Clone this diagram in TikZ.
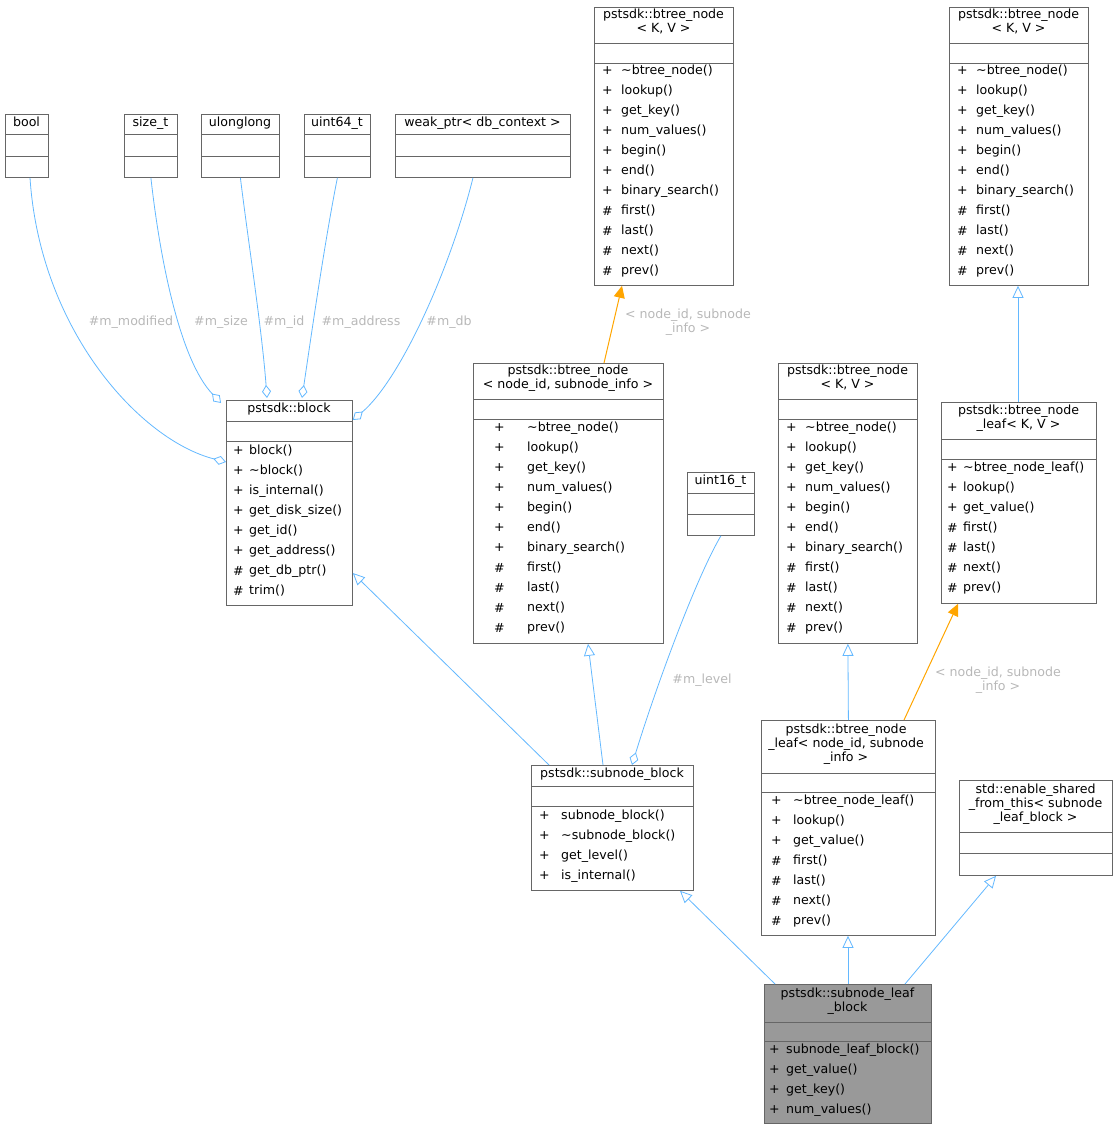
\documentclass[tikz,border=0pt]{standalone}
\usepackage{fontspec}
\setmainfont{DejaVu Sans}
\usetikzlibrary{arrows.meta}
\definecolor{edge}{HTML}{63B8FF}
\definecolor{lbl}{HTML}{B8B8B8}
\definecolor{org}{HTML}{FFA500}
\newcounter{tn}
\newcommand\tl{\textasciitilde}
\begin{document}
\begin{tikzpicture}[x=1pt,y=-1pt,
  box/.style={draw=black!60,line width=0.8pt,inner sep=0,anchor=north west},
  txt/.style={inner sep=0,anchor=west,font=\fontsize{12.6}{14}\selectfont},
  ctxt/.style={inner sep=0,font=\fontsize{12.6}{14}\selectfont,align=center},
  elbl/.style={inner sep=0,font=\fontsize{12.6}{14}\selectfont,text=lbl,align=center},
  own/.style={draw=edge,line width=0.8pt,{Diamond[open,length=13pt,width=9pt,fill=white]}-},
  inh/.style={draw=edge,line width=0.8pt,{Triangle[open,length=12pt,width=11pt,fill=white]}-},
  tmpl/.style={draw=org,line width=1pt,{Triangle[length=12pt,width=11pt]}-}]
\useasboundingbox (0,0) rectangle (1118,1129);
\newcommand\cbox[8]{%
  \node[box,fill=#8,minimum width={(#4-#2)*1pt},minimum height={(#5-#3)*1pt}] (#1) at (#2,#3) {};
  \draw[black!60,line width=0.8pt] (#2,#6) -- (#4,#6) (#2,#7) -- (#4,#7);}
\newcommand\mem[4]{%
  \foreach \s/\n [count=\i] in {#4}{%
    \stepcounter{tn}%
    \node[txt] (s\arabic{tn}) at (#1,{#3+20*(\i-1)}) {\s};
    \node[txt] (n\arabic{tn}) at (#2,{#3+20*(\i-1)}) {\n};}}
\newcommand\ttl[3]{\stepcounter{tn}\node[ctxt,anchor=north] (c\arabic{tn}) at (#1,#2) {#3};}

\cbox{bool}{5}{114}{48}{177}{134}{156}{white}
\ttl{26.5}{117}{bool}
\cbox{sizet}{124}{114}{177}{177}{134}{156}{white}
\ttl{150.5}{117}{size\_t}
\cbox{ull}{201}{114}{279}{177}{134}{156}{white}
\ttl{240}{117}{ulonglong}
\cbox{u64}{304}{114}{370}{177}{134}{156}{white}
\ttl{337}{117}{uint64\_t}
\cbox{weak}{395}{114}{570}{177}{134}{156}{white}
\ttl{482.5}{117}{weak\_ptr< db\_context >}

\cbox{btA}{594}{7}{733}{285}{43}{63}{white}
\ttl{663.5}{9}{pstsdk::btree\_node\\< K, V >}
\mem{602}{621}{71}{+/\tl btree\_node(),+/lookup(),+/get\_key(),+/num\_values(),+/begin(),+/end(),+/binary\_search(),\#/first(),\#/last(),\#/next(),\#/prev()}
\cbox{btB}{949}{7}{1088}{285}{43}{63}{white}
\ttl{1018.5}{9}{pstsdk::btree\_node\\< K, V >}
\mem{957}{976}{71}{+/\tl btree\_node(),+/lookup(),+/get\_key(),+/num\_values(),+/begin(),+/end(),+/binary\_search(),\#/first(),\#/last(),\#/next(),\#/prev()}

\cbox{block}{226}{400}{352}{605}{421}{441}{white}
\ttl{289}{403}{pstsdk::block}
\mem{233}{249}{451}{+/block(),+/\tl block(),+/is\_internal(),+/get\_disk\_size(),+/get\_id(),+/get\_address(),\#/get\_db\_ptr(),\#/trim()}

\cbox{btN}{473}{363}{663}{643}{399}{419}{white}
\ttl{568}{365}{pstsdk::btree\_node\\< node\_id, subnode\_info >}
\mem{494}{527}{428}{+/\tl btree\_node(),+/lookup(),+/get\_key(),+/num\_values(),+/begin(),+/end(),+/binary\_search(),\#/first(),\#/last(),\#/next(),\#/prev()}

\cbox{u16}{687}{472}{754}{535}{493}{514}{white}
\ttl{720.5}{475}{uint16\_t}

\cbox{btC}{778}{363}{917}{643}{399}{419}{white}
\ttl{847.5}{365}{pstsdk::btree\_node\\< K, V >}
\mem{786}{805}{428}{+/\tl btree\_node(),+/lookup(),+/get\_key(),+/num\_values(),+/begin(),+/end(),+/binary\_search(),\#/first(),\#/last(),\#/next(),\#/prev()}

\cbox{leafKV}{941}{402}{1096}{603}{439}{459}{white}
\ttl{1018.5}{405}{pstsdk::btree\_node\\\_leaf< K, V >}
\mem{947}{963}{468}{+/\tl btree\_node\_leaf(),+/lookup(),+/get\_value(),\#/first(),\#/last(),\#/next(),\#/prev()}

\cbox{sub}{531}{765}{693}{890}{786}{806}{white}
\ttl{612}{768}{pstsdk::subnode\_block}
\mem{539}{561}{816}{+/subnode\_block(),+/\tl subnode\_block(),+/get\_level(),+/is\_internal()}

\cbox{leafN}{761}{720}{935}{935}{773}{792}{white}
\ttl{846}{724}{pstsdk::btree\_node\\\_leaf< node\_id, subnode\\\_info >}
\mem{771}{793}{801}{+/\tl btree\_node\_leaf(),+/lookup(),+/get\_value(),\#/first(),\#/last(),\#/next(),\#/prev()}

\cbox{esf}{959}{780}{1112}{875}{832}{853}{white}
\ttl{1035.5}{784}{std::enable\_shared\\\_from\_this< subnode\\\_leaf\_block >}

\cbox{slb}{764}{984}{931}{1123}{1022}{1041}{black!40}
\ttl{847.5}{988}{pstsdk::subnode\_leaf\\\_block}
\mem{769}{786}{1050}{+/subnode\_leaf\_block(),+/get\_value(),+/get\_key(),+/num\_values()}

% ownership edges
\draw[own] (block.west |- 0,462) .. controls (140,440) and (40,330) .. (bool.south -| 30,0);
\draw[own] (block.north west) ++(-5,3) .. controls (180,360) and (160,260) .. (sizet.south);
\draw[own] (267,398) .. controls (262,330) and (248,240) .. (ull.south);
\draw[own] (302,398) .. controls (312,330) and (325,240) .. (u64.south);
\draw[own] (block.east |- 0,420) .. controls (400,380) and (450,270) .. (weak.south -| 473,0);
\draw[own] (sub.north -| 632,0) .. controls (655,690) and (695,580) .. (u16.south);
% inheritance
\draw[inh] (block.east |- 0,573) -- (sub.north -| 549,0);
\draw[inh] (btN.south -| 588,0) -- (sub.north -| 603,0);
\draw[inh] (btC.south) -- (leafN.south |- leafN.north);
\draw[inh] (btB.south -| 1018,0) -- (leafKV.north -| 1018,0);
\draw[inh] (sub.south -| 680,0) -- (slb.north -| 775,0);
\draw[inh] (leafN.south -| 848,0) -- (slb.north -| 848,0);
\draw[inh] (esf.south -| 996,0) -- (slb.north -| 905,0);
% template
\draw[tmpl] (btA.south -| 622,0) -- (btN.north -| 604,0);
\draw[tmpl] (leafKV.south -| 958,0) -- (leafN.north -| 904,0);
% labels
\node[elbl] (l1) at (131,322) {\#m\_modified};
\node[elbl] (l2) at (221,322) {\#m\_size};
\node[elbl] (l3) at (284,322) {\#m\_id};
\node[elbl] (l4) at (361,322) {\#m\_address};
\node[elbl] (l5) at (449,322) {\#m\_db};
\node[elbl] (l6) at (702,680) {\#m\_level};
\node[elbl] (l7) at (688,322) {< node\_id, subnode\\\_info >};
\node[elbl] (l8) at (998,680) {< node\_id, subnode\\\_info >};
\end{tikzpicture}
\end{document}
